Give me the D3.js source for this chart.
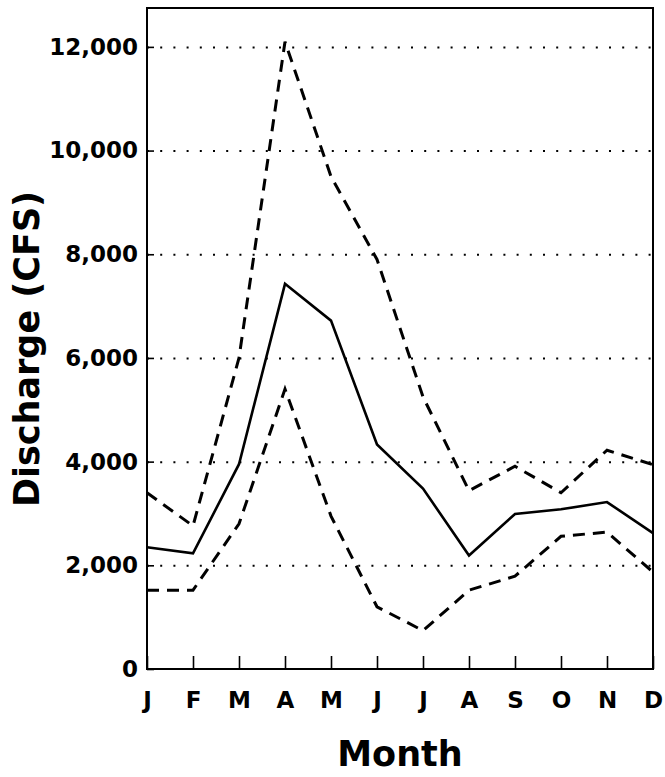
<!DOCTYPE html>
<html>
<head>
<meta charset="utf-8">
<script src="https://cdn.jsdelivr.net/npm/d3@7"></script>
<style>
    body { margin: 0; background: #fff; }
    svg { display: block; }
    .axis text { font-family: "DejaVu Sans", sans-serif; font-weight: bold; fill: #000; }
    .axis line { stroke: #000; stroke-width: 1.6; }
    .axis path.domain { display: none; }
    .grid line { stroke: #000; stroke-width: 2; stroke-dasharray: 2, 11.2; }
    .grid path.domain { display: none; }
    .title { font-family: "DejaVu Sans", sans-serif; font-weight: bold; fill: #000; }
</style>
</head>
<body>
<svg id="chart" width="665" height="777"></svg>
<script>

// month labels (index based, since J/M/A repeat)
var months = ["J", "F", "M", "A", "M", "J", "J", "A", "S", "O", "N", "D"];

// discharge values (CFS)
var meanFlow  = [2350, 2230, 3950, 7430, 6720, 4330, 3480, 2190, 2990, 3080, 3220, 2620];
var upperFlow = [3400, 2760, 6000, 12100, 9500, 7900, 5250, 3440, 3910, 3400, 4220, 3940];
var lowerFlow = [1520, 1520, 2800, 5400, 2950, 1200, 740, 1520, 1790, 2560, 2640, 1870];

var yTicks = [0, 2000, 4000, 6000, 8000, 10000, 12000];

var svg = d3.select("#chart");

// plot box (note: "top" is taken by window.top)
var plotLeft = 147, plotRight = 653, plotTop = 8, plotBottom = 669;

var xScale = d3.scalePoint()
    .domain(d3.range(months.length))
    .range([plotLeft, plotRight]);

var yScale = d3.scaleLinear()
    .domain([0, 12750])
    .range([plotBottom, plotTop]);

// dotted gridlines (not at 0)
svg.append("g")
    .attr("class", "grid")
    .attr("transform", "translate(" + plotLeft + ",0)")
    .call(d3.axisLeft(yScale)
        .tickValues(yTicks.slice(1))
        .tickSize(-(plotRight - plotLeft))
        .tickFormat(""));

// y axis, ticks point inward
svg.append("g")
    .attr("class", "axis")
    .attr("transform", "translate(" + plotLeft + ",0)")
    .call(d3.axisLeft(yScale)
        .tickValues(yTicks)
        .tickSize(-7)
        .tickPadding(9)
        .tickFormat(d3.format(",")))
    .selectAll("text")
    .style("font-size", "23px");

// x axis, ticks point up into the plot
svg.append("g")
    .attr("class", "axis")
    .attr("transform", "translate(0," + plotBottom + ")")
    .call(d3.axisBottom(xScale)
        .tickSize(-13)
        .tickPadding(23)
        .tickFormat(function (i) { return months[i]; }))
    .selectAll("text")
    .style("font-size", "23px");

// frame round the plot
svg.append("rect")
    .attr("x", plotLeft)
    .attr("y", plotTop)
    .attr("width", plotRight - plotLeft)
    .attr("height", plotBottom - plotTop)
    .style("fill", "none")
    .style("stroke", "#000")
    .style("stroke-width", 2);

var line = d3.line()
    .x(function (d, i) { return xScale(i); })
    .y(function (d) { return yScale(d); });

var series = [
    {values: upperFlow, dash: "12,8", width: 3},
    {values: lowerFlow, dash: "12,8", width: 3},
    {values: meanFlow, dash: null, width: 2.6}
];

svg.append("g")
    .selectAll("path")
    .data(series)
    .enter()
    .append("path")
    .attr("d", function (d) { return line(d.values); })
    .style("fill", "none")
    .style("stroke", "#000")
    .style("stroke-width", function (d) { return d.width; })
    .style("stroke-dasharray", function (d) { return d.dash; })
    .style("stroke-linejoin", "miter");

// axis titles
svg.append("text")
    .attr("class", "title")
    .attr("x", 400)
    .attr("y", 766)
    .attr("text-anchor", "middle")
    .style("font-size", "35px")
    .text("Month");

svg.append("text")
    .attr("class", "title")
    .attr("transform", "translate(39,349) rotate(-90)")
    .attr("text-anchor", "middle")
    .style("font-size", "35px")
    .text("Discharge (CFS)");

</script>
</body>
</html>
